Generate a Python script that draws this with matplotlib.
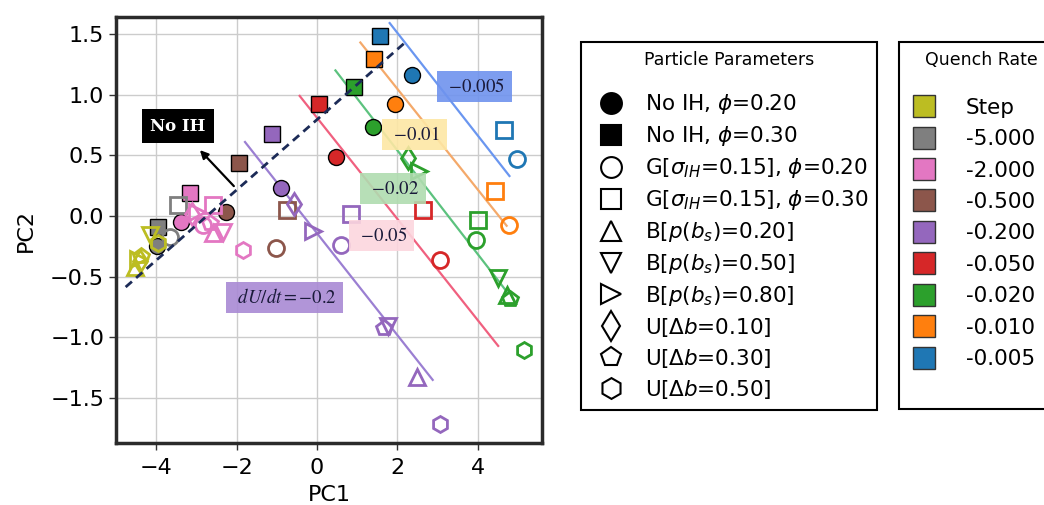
import numpy as np
import matplotlib.pyplot as plt
from matplotlib.lines import Line2D

# quench rates and their colours
rates = ['Step', '-5.000', '-2.000', '-0.500', '-0.200', '-0.050', '-0.020', '-0.010', '-0.005']
rate_colors = ['#bcbd22', '#7f7f7f', '#e377c2', '#8c564b', '#9467bd',
               '#d62728', '#2ca02c', '#ff7f0e', '#1f77b4']

# particle parameter sets
kinds = ['noih20', 'noih30', 'g20', 'g30', 'b20', 'b50', 'b80', 'u10', 'u30', 'u50']
kind_labels = [r'No IH, $\phi$=0.20', r'No IH, $\phi$=0.30',
               r'G[$\sigma_{IH}$=0.15], $\phi$=0.20', r'G[$\sigma_{IH}$=0.15], $\phi$=0.30',
               r'B[$p(b_s)$=0.20]', r'B[$p(b_s)$=0.50]', r'B[$p(b_s)$=0.80]',
               r'U[$\Delta b$=0.10]', r'U[$\Delta b$=0.30]', r'U[$\Delta b$=0.50]']
kind_markers = ['o', 's', 'o', 's', '^', 'v', '>', 'd', 'p', 'h']
kind_filled = [True, True, False, False, False, False, False, False, False, False]

# PCA scores
point_rate = ['-0.005', '-0.010', '-0.020', '-0.050', '-0.200', '-0.500', '-2.000', '-5.000',
              '-0.005', '-0.010', '-0.020', '-0.050', '-0.200', '-0.500', '-2.000', '-5.000',
              '-0.005', '-0.010', '-0.020', '-0.050', '-0.200', '-0.500', '-2.000', '-5.000',
              '-0.005', '-0.010', '-0.020', '-0.050', '-0.200', '-0.500', '-2.000', '-5.000',
              '-0.020', '-0.200', '-2.000', 'Step',
              '-0.020', '-0.200', '-2.000', 'Step',
              '-0.020', '-0.200', '-2.000', 'Step',
              '-0.020', '-0.200', '-2.000', 'Step',
              '-0.020', '-0.200', '-2.000', 'Step',
              '-0.020', '-0.200', '-2.000', 'Step']
point_kind = ['noih20'] * 8 + ['noih30'] * 8 + ['g20'] * 8 + ['g30'] * 8 + \
             ['b20'] * 4 + ['b50'] * 4 + ['b80'] * 4 + ['u10'] * 4 + ['u30'] * 4 + ['u50'] * 4
point_pc1 = [2.36, 1.93, 1.39, 0.47, -0.90, -2.27, -3.39, -3.98,
             1.58, 1.41, 0.92, 0.04, -1.13, -1.95, -3.16, -3.96,
             4.97, 4.77, 3.97, 3.05, 0.59, -1.03, -2.84, -3.66,
             4.65, 4.42, 4.00, 2.65, 0.84, -0.75, -2.59, -3.46,
             4.74, 2.50, -2.59, -4.53,
             4.50, 1.76, -2.34, -4.16,
             2.55, -0.11, -2.99, -4.45,
             2.26, -0.58, -3.12, -4.40,
             4.80, 1.68, -2.67, -4.38,
             5.14, 3.07, -1.85, -3.96]
point_pc2 = [1.16, 0.92, 0.73, 0.49, 0.23, 0.03, -0.05, -0.25,
             1.48, 1.29, 1.06, 0.92, 0.68, 0.44, 0.19, -0.09,
             0.47, -0.07, -0.20, -0.36, -0.24, -0.26, -0.07, -0.17,
             0.71, 0.21, -0.03, 0.05, 0.02, 0.05, 0.09, 0.09,
             -0.65, -1.33, -0.14, -0.42,
             -0.51, -0.91, -0.13, -0.16,
             0.37, -0.12, 0.03, -0.35,
             0.48, 0.10, 0.02, -0.37,
             -0.68, -0.92, -0.06, -0.33,
             -1.10, -1.71, -0.28, -0.22]

# no-IH trend and constant quench rate trends
noih_x = [-4.76, 2.16]
noih_y = [-0.585, 1.42]
trend_rate = ['-0.005', '-0.010', '-0.020', '-0.050', '-0.200']
trend_x = [[1.81, 4.79], [1.08, 4.72], [0.46, 4.74], [-0.43, 4.51], [-1.79, 2.88]]
trend_y = [[1.59, 0.33], [1.43, -0.08], [1.20, -0.63], [0.99, -1.07], [0.61, -1.35]]
trend_colors = ['#6a96f0', '#f4a96a', '#5cc27e', '#f0607f', '#9b7fd2']
trend_text = [r'$-0.005$', r'$-0.01$', r'$-0.02$', r'$-0.05$', r'$dU/dt=-0.2$']
trend_box = ['#6f93ee', '#fde7a4', '#b0dcb0', '#fcd6de', '#a98ad4']
trend_pos = [(3.92, 1.07), (2.43, 0.67), (1.89, 0.23), (1.61, -0.16), (-0.80, -0.67)]

color_of = dict(zip(rates, rate_colors))

fig = plt.figure(figsize=(10.44, 5.05), dpi=100)
ax = fig.add_axes([116 / 1044, 62 / 505, 426 / 1044, 426 / 505])

for k, m, filled in zip(kinds, kind_markers, kind_filled):
    for r, x, y, pk in zip(point_rate, point_pc1, point_pc2, point_kind):
        if pk != k:
            continue
        c = color_of[r]
        if filled:
            ax.plot(x, y, marker=m, ms=11.5, mfc=c, mec='black', mew=1.0, ls='none', zorder=3)
        else:
            ax.plot(x, y, marker=m, ms=11.5, mfc='none', mec=c, mew=2.0, ls='none', zorder=3)

for xs, ys, c in zip(trend_x, trend_y, trend_colors):
    ax.plot(xs, ys, color=c, lw=1.6, zorder=2)

ax.plot(noih_x, noih_y, color='#1c2b57', lw=2, ls=(0, (3, 2)), zorder=4)

for (px, py), t, bc in zip(trend_pos, trend_text, trend_box):
    ax.text(px, py, ' ' + t + ' ', ha='center', va='center', fontsize=13.5,
            math_fontfamily='stix', color='#1a1a3a', zorder=5,
            bbox=dict(boxstyle='square,pad=0.32', fc=bc, ec='none', alpha=0.9))

ax.annotate('', xy=(-2.96, 0.56), xytext=(-2.02, 0.23),
            arrowprops=dict(arrowstyle='-|>', color='black', lw=1.6, mutation_scale=12), zorder=5)
ax.text(-3.46, 0.74, 'No IH', ha='center', va='center', fontsize=12, color='white',
        fontweight='bold', family='DejaVu Serif', zorder=5,
        bbox=dict(boxstyle='square,pad=0.5', fc='black', ec='none'))

ax.set_xlim(-5.0, 5.6)
ax.set_ylim(-1.87, 1.64)
ax.set_xticks([-4, -2, 0, 2, 4])
ax.set_yticks([-1.5, -1.0, -0.5, 0.0, 0.5, 1.0, 1.5])
ax.grid(True, color='#cccccc', lw=1.0, zorder=0)
ax.set_axisbelow(True)
ax.tick_params(labelsize=16, length=5, width=1, color='#333333')
ax.tick_params(axis='x', pad=6)
for sp in ax.spines.values():
    sp.set_linewidth(2.5)
    sp.set_color('#2b2b2b')
ax.set_xlabel('PC1', fontsize=16, labelpad=5)
ax.set_ylabel('PC2', fontsize=16, labelpad=10)

kind_handles = [Line2D([], [], marker=m, ls='none', ms=15,
                       mfc='black' if f else 'none', mec='black', mew=1.5)
                for m, f in zip(kind_markers, kind_filled)]
rate_handles = [Line2D([], [], marker='s', ls='none', ms=16, mfc=c, mec='#333333', mew=1.0)
                for c in rate_colors]
# empty last row keeps both boxes the same height
rate_handles.append(Line2D([], [], ls='none'))

legend_kw = dict(loc='upper left', borderaxespad=0, fontsize=15.5, title_fontsize=12.5,
                 fancybox=False, edgecolor='black', framealpha=1, borderpad=0.4)
leg1 = fig.legend(kind_handles, kind_labels, title='Particle Parameters', labelspacing=0.37,
                  handletextpad=0.55, bbox_to_anchor=(581 / 1044, 1 - 42 / 505), **legend_kw)
leg2 = fig.legend(rate_handles, rates + [' ' * 13], title='Quench Rate', labelspacing=0.53,
                  handlelength=1.55, handletextpad=1.14,
                  bbox_to_anchor=(899 / 1044, 1 - 42 / 505), **legend_kw)
for leg, sep in ((leg1, 17), (leg2, 21)):
    leg.get_frame().set_linewidth(1.5)
    # extra room between the title and the first entry
    leg._legend_box.sep = sep

fig.savefig('out.png', dpi=100)
